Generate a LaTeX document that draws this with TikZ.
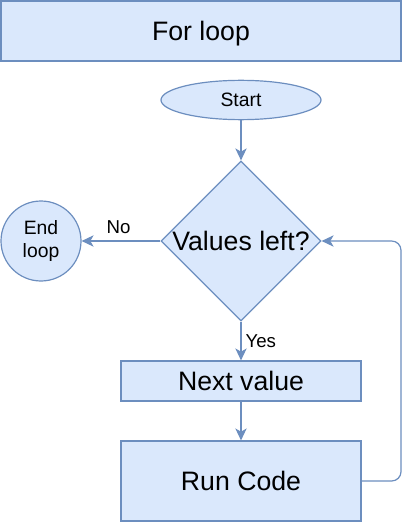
\documentclass[tikz,border=0pt]{standalone}
\usepackage{fontspec}
\setmainfont{Liberation Sans}
\usetikzlibrary{shapes.geometric,arrows.meta}

\definecolor{boxfill}{HTML}{DAE8FC}
\definecolor{boxline}{HTML}{6C8EBF}

\tikzset{
    flowbox/.style={draw=boxline, fill=boxfill, line width=0.9pt, inner sep=0pt, text=black},
    bigtext/.style={font=\fontsize{20}{24}\selectfont, text depth=0pt},
    smalltext/.style={font=\fontsize{14.5}{17}\selectfont},
    flowarrow/.style={draw=boxline, line width=0.9pt, -{Stealth[length=9pt,width=8.5pt,inset=2.5pt]}},
    edgelabel/.style={font=\fontsize{14}{16}\selectfont, inner sep=0pt}
}

\begin{document}
\begin{tikzpicture}[x=0.75pt, y=-0.75pt]
    % --- canvas (pixel coordinates, y going down; sizes in pt = px * 0.75) ---
    \useasboundingbox (0, 0) rectangle (418, 524);

    % --- main column ---
    \def\midX{241}      % centre line of the flow
    \def\loopX{401}     % x of the line that runs back up

    % --- title ---
    \node[flowbox, rectangle, bigtext, minimum width=300pt, minimum height=45pt] (title) at (201, 31) {For loop};

    % --- flow nodes ---
    \node[flowbox, ellipse, smalltext, minimum width=120pt, minimum height=29.5pt] (start) at (\midX, 100) {Start};
    % text as a centre label, so the diamond keeps its size
    \node[flowbox, diamond, minimum width=120pt, minimum height=120pt,
          label={[bigtext]center:Values left?}] (check) at (\midX, 241) {};
    \node[flowbox, circle, smalltext, minimum size=60pt, align=center] (endloop) at (41, 241) {End\\loop};
    \node[flowbox, rectangle, bigtext, minimum width=180pt, minimum height=30pt] (next) at (\midX, 381) {Next value};
    \node[flowbox, rectangle, bigtext, minimum width=180pt, minimum height=60pt] (run) at (\midX, 481) {Run Code};

    % --- connectors ---
    \draw[flowarrow] (start) -- (check);
    \draw[flowarrow] (check) -- (endloop) node[edgelabel, pos=0.53, above=5pt] {No};
    \draw[flowarrow] (check) -- (next) node[edgelabel, pos=0.5, right=3pt] {Yes};
    \draw[flowarrow] (next) -- (run);

    % back to the test: right of Run Code, up, then left into the diamond
    \draw[flowarrow, rounded corners=7pt] (run.east) -- (\loopX, 481) -- (\loopX, 241) -- (check.east);

\end{tikzpicture}
\end{document}
